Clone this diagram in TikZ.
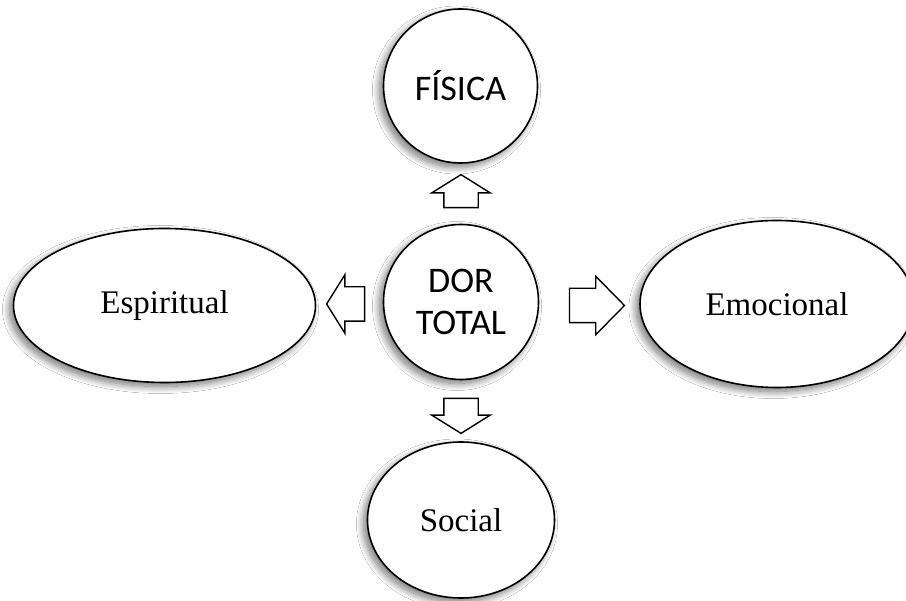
\documentclass[tikz,border=0pt]{standalone}
\usepackage{fontspec}
\setmainfont{Liberation Serif}
\newfontfamily\calib{Carlito}
\usetikzlibrary{shapes.geometric,shapes.arrows,shadows.blur}
\begin{document}
\begin{tikzpicture}[x=1pt,y=-1pt,
  shad/.style={blur shadow={shadow xshift=-4pt, shadow yshift=-4pt, shadow blur steps=14, shadow blur radius=7pt, shadow opacity=55}},
  bub/.style={draw, line width=1.6pt, fill=white, inner sep=0pt, shad},
  circ/.style={bub, circle, font=\calib\fontsize{36}{44}\selectfont, align=center},
  ell/.style={bub, ellipse, font=\fontsize{33}{40}\selectfont},
  barrow/.style={single arrow, draw, line width=1.4pt, fill=white, inner xsep=0pt, inner ysep=16.5pt, single arrow head extend=12pt, single arrow tip angle=116, minimum width=0pt}]
\useasboundingbox (0,0) rectangle (906,601);
\fill[white] (0,0) rectangle (906,601);
\node[circ, minimum size=154pt] (fis) at (460.5,86) {FÍSICA};
\node[circ, minimum size=155pt] (dor) at (461,302) {DOR\\[-2pt]TOTAL};
\node[ell, minimum width=302pt, minimum height=154pt] (esp) at (164.5,305.5) {Espiritual};
\node[ell, minimum width=274pt, minimum height=167pt] (emo) at (777,304) {Emocional};
\node[ell, minimum width=187pt, minimum height=156pt] (soc) at (461,520) {Social};
\node[barrow, rotate=90, minimum height=33pt] (aup) at (461,196.5) {};
\node[barrow, rotate=180, minimum height=38pt] (alf) at (351,304) {};
\node[barrow, single arrow tip angle=91, minimum height=55pt] (art) at (588.5,305.5) {};
\node[barrow, rotate=-90, minimum height=35pt] (adn) at (461,410.5) {};
\end{tikzpicture}
\end{document}
